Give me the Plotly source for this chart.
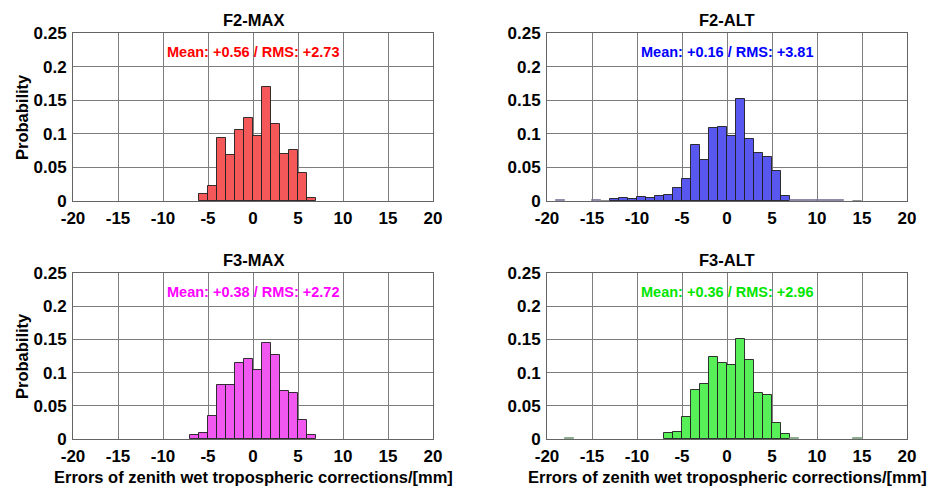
import plotly.graph_objects as go

# Error-distribution histograms (1 mm bins), probability per bin
f2_max_start = -6
f2_max_prob = [0.010, 0.022, 0.094, 0.068, 0.105, 0.123, 0.097, 0.170, 0.115, 0.070, 0.076, 0.041, 0.004]

f2_alt_start = -19
f2_alt_prob = [0.0008, 0.0, 0.0, 0.0, 0.001, 0.0005, 0.003, 0.004, 0.003, 0.006, 0.005, 0.008, 0.009,
               0.020, 0.033, 0.084, 0.061, 0.108, 0.110, 0.097, 0.152, 0.093, 0.071, 0.066, 0.044,
               0.008, 0.001, 0.002, 0.001, 0.001, 0.001, 0.001, 0.0, 0.0005]

f3_max_start = -7
f3_max_prob = [0.0055, 0.009, 0.035, 0.081, 0.082, 0.115, 0.120, 0.104, 0.144, 0.127, 0.073, 0.069, 0.028, 0.0055]

f3_alt_start = -18
f3_alt_prob = [0.001, 0.0, 0.0, 0.0, 0.0, 0.0, 0.0, 0.0, 0.0, 0.0, 0.0, 0.009, 0.010, 0.033, 0.074, 0.083,
               0.123, 0.114, 0.112, 0.150, 0.119, 0.069, 0.066, 0.024, 0.0075, 0.001, 0.0, 0.0, 0.0, 0.0,
               0.0, 0.0, 0.001]

panel_titles = ["F2-MAX", "F2-ALT", "F3-MAX", "F3-ALT"]
stat_labels = ["Mean: +0.56 / RMS: +2.73", "Mean: +0.16 / RMS: +3.81",
               "Mean: +0.38 / RMS: +2.72", "Mean: +0.36 / RMS: +2.96"]
x_ticks = [-20, -15, -10, -5, 0, 5, 10, 15, 20]
y_ticks = [0, 0.05, 0.1, 0.15, 0.2, 0.25]
y_tick_text = ["0", "0.05", "0.1", "0.15", "0.2", "0.25"]
x_title = "Errors of zenith wet tropospheric corrections/[mm]"
y_title = "Probability"

series = [(f2_max_start, f2_max_prob), (f2_alt_start, f2_alt_prob),
          (f3_max_start, f3_max_prob), (f3_alt_start, f3_alt_prob)]
fills = ["rgb(245,88,88)", "rgb(88,88,240)", "rgb(240,88,240)", "rgb(88,240,88)"]
text_colors = ["rgb(255,0,0)", "rgb(0,0,255)", "rgb(255,0,255)", "rgb(0,230,0)"]

W, H = 932, 490
col_x = [(73, 433), (547, 907)]
row_y = [(33, 201), (273, 439)]

FONT = "Liberation Sans, Arial, sans-serif"
fig = go.Figure()
annotations = []

for i, (start, probs) in enumerate(series):
    r, c = divmod(i, 2)
    n = i + 1
    xa = "x" if n == 1 else f"x{n}"
    ya = "y" if n == 1 else f"y{n}"
    # only bins that hold samples get a bar
    centers = [start + k + 0.5 for k, p in enumerate(probs) if p > 0]
    heights = [p for p in probs if p > 0]
    # very thin tail bars get a faint outline so they read as slivers
    edge = ["rgba(30,30,30,0.9)" if p >= 0.0025 else "rgba(120,120,120,0.6)" for p in heights]
    fig.add_trace(go.Bar(
        x=centers, y=heights, width=1.0,
        marker=dict(color=fills[i], line=dict(color=edge, width=1)),
        xaxis=xa, yaxis=ya, showlegend=False,
    ))
    x0, x1 = col_x[c]
    y0, y1 = row_y[r]
    dom_x = [x0 / W, x1 / W]
    dom_y = [1 - y1 / H, 1 - y0 / H]
    axis_common = dict(
        showline=True, linecolor="rgb(100,100,100)", linewidth=1, mirror=True,
        showgrid=True, gridcolor="rgb(125,125,125)", gridwidth=1,
        zeroline=False, ticks="", automargin=False,
        tickfont=dict(family=FONT, size=17, color="black", weight="bold"),
    )
    fig.layout[f"xaxis{'' if n == 1 else n}"] = dict(
        domain=dom_x, anchor=ya, range=[-20, 20], tickvals=x_ticks,
        ticktext=[str(v) for v in x_ticks], ticklabelstandoff=2, **axis_common)
    fig.layout[f"yaxis{'' if n == 1 else n}"] = dict(
        domain=dom_y, anchor=xa, range=[0, 0.25], tickvals=y_ticks,
        ticktext=y_tick_text, ticklabelstandoff=2, **axis_common)

    cx = (x0 + x1) / 2 / W
    annotations.append(dict(
        x=cx, y=1 - (y0 - 13) / H, xref="paper", yref="paper",
        text=f"<b>{panel_titles[i]}</b>", showarrow=False,
        font=dict(family=FONT, size=16.5, color="black"),
        xanchor="center", yanchor="middle"))
    annotations.append(dict(
        x=cx, y=1 - (y0 + 19) / H, xref="paper", yref="paper",
        text=f"<b>{stat_labels[i]}</b>", showarrow=False,
        font=dict(family=FONT, size=14.5, color=text_colors[i]),
        xanchor="center", yanchor="middle"))
    if c == 0:
        annotations.append(dict(
            x=22 / W, y=1 - ((y0 + y1) / 2) / H, xref="paper", yref="paper",
            text=f"<b>{y_title}</b>", showarrow=False, textangle=-90,
            font=dict(family=FONT, size=16.5, color="black"),
            xanchor="center", yanchor="middle"))
    if r == 1:
        annotations.append(dict(
            x=cx, y=1 - 477 / H, xref="paper", yref="paper",
            text=f"<b>{x_title}</b>", showarrow=False,
            font=dict(family=FONT, size=16.5, color="black"),
            xanchor="center", yanchor="middle"))

fig.update_layout(
    width=W, height=H, margin=dict(l=0, r=0, t=0, b=0, autoexpand=False),
    paper_bgcolor="white", plot_bgcolor="white",
    bargap=0, annotations=annotations,
)

fig.write_html("out.html")
